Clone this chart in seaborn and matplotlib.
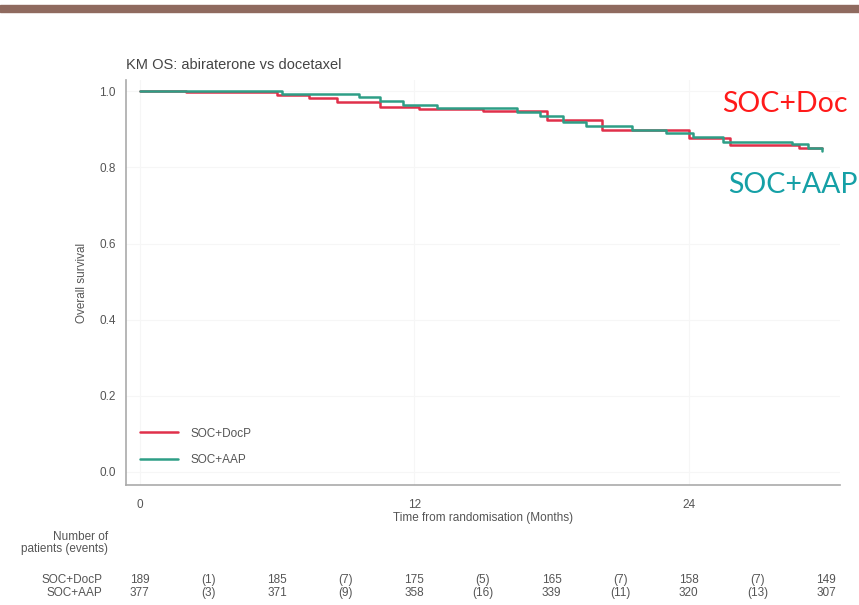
import numpy as np
import pandas as pd
import matplotlib
matplotlib.use("Agg")
import matplotlib.pyplot as plt
import matplotlib.transforms as mtransforms
import seaborn as sns

# =============================================================================
# DATA
# =============================================================================

arms = ["SOC+DocP", "SOC+AAP"]

doc_time = [0, 2.0, 6.0, 7.4, 8.6, 10.5, 12.2, 15.0, 17.8, 20.2, 24.0, 25.8, 28.8, 29.8]
doc_surv = [1.0, 0.997, 0.99, 0.983, 0.972, 0.959, 0.953, 0.947, 0.925, 0.899, 0.878, 0.86, 0.852, 0.852]

aap_time = [0, 6.2, 9.6, 10.5, 11.5, 13.0, 16.5, 17.5, 18.5, 19.5, 21.5, 23.0, 24.2, 25.5, 28.5, 29.2, 29.8]
aap_surv = [1.0, 0.994, 0.985, 0.975, 0.963, 0.955, 0.945, 0.935, 0.92, 0.91, 0.898, 0.89, 0.88, 0.868, 0.862, 0.85, 0.843]

risk_times = [0, 3, 6, 9, 12, 15, 18, 21, 24, 27, 30]
risk_doc = ["189", "(1)", "185", "(7)", "175", "(5)", "165", "(7)", "158", "(7)", "149"]
risk_aap = ["377", "(3)", "371", "(9)", "358", "(16)", "339", "(11)", "320", "(13)", "307"]

colors = {"SOC+DocP": "#e0304a", "SOC+AAP": "#2e9e86"}

df = pd.concat([
    pd.DataFrame({"time": doc_time, "surv": doc_surv, "arm": "SOC+DocP"}),
    pd.DataFrame({"time": aap_time, "surv": aap_surv, "arm": "SOC+AAP"}),
])

# =============================================================================
# FIGURE
# =============================================================================

sns.set_style("white")
plt.rcParams["font.family"] = ["Liberation Sans", "DejaVu Sans"]

small = 8.5
grey = "#555555"

fig = plt.figure(figsize=(8.59, 6.05), dpi=100)
ax = fig.add_axes([0.1467, 0.198, 0.831, 0.67])

sns.lineplot(
    data=df, x="time", y="surv", hue="arm", hue_order=arms,
    palette=colors, drawstyle="steps-post", estimator=None,
    linewidth=1.8, ax=ax
)

ax.set_xlim(-0.6, 30.6)
ax.set_ylim(-0.035, 1.03)
ax.set_xticks([0, 12, 24])
ax.set_xticks([6, 18, 30], minor=True)
ax.set_yticks([0.0, 0.2, 0.4, 0.6, 0.8, 1.0])
ax.set_yticks([0.1, 0.3, 0.5, 0.7, 0.9], minor=True)
ax.yaxis.set_major_formatter(matplotlib.ticker.FormatStrFormatter("%.1f"))
ax.tick_params(axis="both", which="both", direction="out", colors="#999999",
               labelcolor=grey, labelsize=small)
ax.tick_params(axis="both", which="major", length=4)
ax.tick_params(axis="both", which="minor", length=3)
ax.tick_params(axis="x", which="major", pad=6)

for side in ["top", "right"]:
    ax.spines[side].set_visible(False)
for side in ["left", "bottom"]:
    ax.spines[side].set_color("#aaaaaa")
    ax.spines[side].set_linewidth(1.2)

ax.grid(True, which="major", color="#f6f6f6", linewidth=0.8)

ax.set_xlabel("Time from randomisation (Months)", fontsize=small, color=grey, labelpad=1)
ax.set_ylabel("Overall survival", fontsize=small, color=grey, labelpad=8)
ax.set_title("KM OS: abiraterone vs docetaxel", fontsize=10.5, color="#444444",
             loc="left", pad=8, x=0.0)

ax.legend(
    title=None, loc="center left", bbox_to_anchor=(0.005, 0.095),
    frameon=False, fontsize=small, labelspacing=1.2, handlelength=3.2,
    handletextpad=1.1, labelcolor=grey
)

# big coloured labels at top right
fig.text(722 / 859, 1 - 112 / 605, "SOC+Doc", color="#ff1a1a", fontsize=20.5,
         family=["Lato", "DejaVu Sans"])
fig.text(728 / 859, 1 - 193 / 605, "SOC+AAP", color="#15a0a6", fontsize=20.5,
         family=["Lato", "DejaVu Sans"])

# brown band at the very top
fig.patches.append(plt.Rectangle((0, 0.98), 1, 0.011, transform=fig.transFigure,
                                 color="#8f6a5f", zorder=0))

# risk table below the axis
trans = mtransforms.blended_transform_factory(ax.transData, fig.transFigure)
fig.text(108 / 859, 1 - 537 / 605, "Number of", ha="right", va="center",
         fontsize=small, color=grey)
fig.text(108 / 859, 1 - 549 / 605, "patients (events)", ha="right", va="center",
         fontsize=small, color=grey)
fig.text(102 / 859, 1 - 580 / 605, "SOC+DocP", ha="right", va="center",
         fontsize=small, color=grey)
fig.text(102 / 859, 1 - 593 / 605, "SOC+AAP", ha="right", va="center",
         fontsize=small, color=grey)
for t, a, b in zip(risk_times, risk_doc, risk_aap):
    fig.text(t, 1 - 580 / 605, a, transform=trans, ha="center", va="center",
             fontsize=small, color=grey)
    fig.text(t, 1 - 593 / 605, b, transform=trans, ha="center", va="center",
             fontsize=small, color=grey)

fig.savefig("out.png", dpi=100)
